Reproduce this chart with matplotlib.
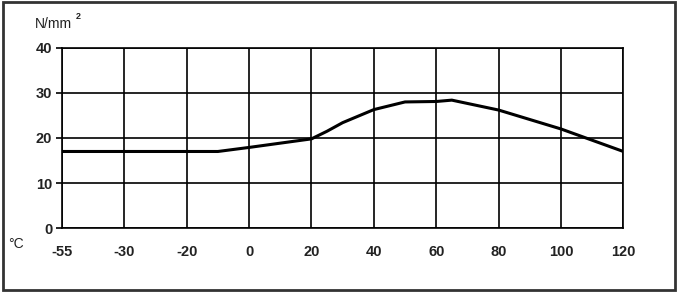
import matplotlib.pyplot as plt
import numpy as np
from matplotlib.patches import Rectangle

plt.rcParams['font.family'] = ['Liberation Sans', 'DejaVu Sans']

# Axe des températures (graduations non linéaires, espacées régulièrement)
tick_temps = [-55, -30, -20, 0, 20, 40, 60, 80, 100, 120]
tick_labels = ['-55', '-30', '-20', '0', '20', '40', '60', '80', '100', '120']

# Courbe de résistance (N/mm²) en fonction de la température
temps = [-55, -10, 0, 20, 25, 30, 40, 50, 60, 65, 80, 100, 120]
strength = [17, 17, 17.9, 19.8, 21.5, 23.4, 26.3, 28.0, 28.1, 28.4, 26.2, 22.0, 17.0]

y_ticks = [0, 10, 20, 30, 40]

x_pos = np.interp(temps, tick_temps, np.arange(len(tick_temps)))

fig = plt.figure(figsize=(6.78, 2.92), dpi=100)
ax = fig.add_axes([0.0914, 0.219, 0.828, 0.617])

ax.plot(x_pos, strength, color='black', linewidth=2.2, zorder=3)

ax.set_xlim(0, len(tick_temps) - 1)
ax.set_ylim(0, 40)
ax.set_xticks(np.arange(len(tick_temps)))
ax.set_xticklabels(tick_labels)
ax.set_yticks(y_ticks)
ax.grid(True, color='black', linewidth=1.2)
for s in ax.spines.values():
    s.set_linewidth(1.2)
ax.tick_params(axis='x', length=0, pad=12, labelsize=10.5)
ax.tick_params(axis='y', length=4, width=1.2, pad=3, labelsize=10.5)
for lbl in ax.get_xticklabels() + ax.get_yticklabels():
    lbl.set_fontweight('bold')
    lbl.set_color('#222222')

fig.text(0.052, 0.905, 'N/mm', fontsize=10, color='#222222')
fig.text(0.112, 0.935, '2', fontsize=6.5, fontweight='bold', color='#222222')
fig.text(0.012, 0.15, '°C', fontsize=10, color='#222222')

# Cadre extérieur
fig.patches.append(Rectangle((0.004, 0.008), 0.991, 0.984, transform=fig.transFigure,
                             fill=False, edgecolor='#333333', linewidth=2))

plt.savefig('out.png', dpi=100)
